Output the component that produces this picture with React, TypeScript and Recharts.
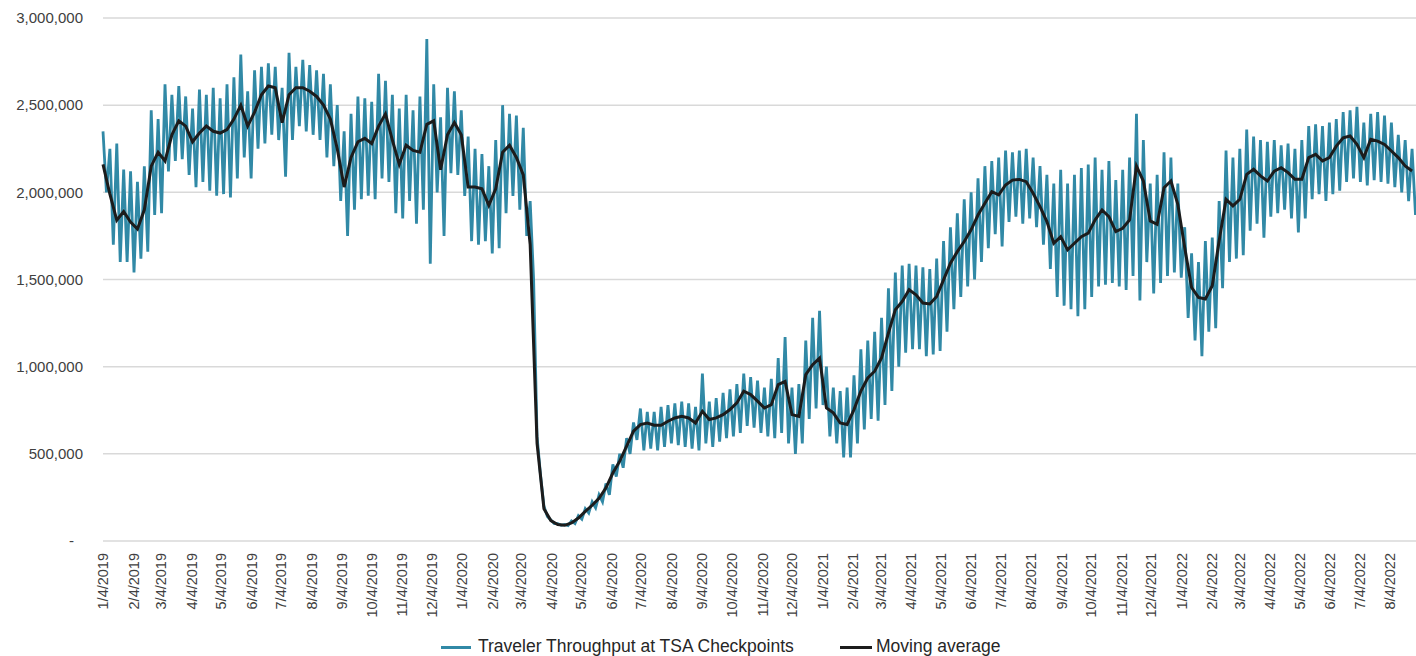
import { LineChart, Line, XAxis, YAxis, CartesianGrid, Legend } from "recharts";

// weekly readings, thousands of travelers; week 0 starts 1/4/2019
const weeklyHighK = [
  2350, 2250, 2280, 2130, 2120, 2060, 2150, 2470, 2420, 2620,
  2560, 2610, 2550, 2480, 2590, 2560, 2600, 2540, 2620, 2660,
  2790, 2580, 2700, 2720, 2740, 2720, 2600, 2800, 2720, 2760,
  2730, 2700, 2680, 2620, 2500, 2350, 2450, 2550, 2540, 2520,
  2680, 2640, 2560, 2480, 2560, 2470, 2550, 2880, 2620, 2430,
  2600, 2580, 2470, 2320, 2250, 2220, 2150, 2300, 2500, 2450,
  2440, 2370, 1950, 600, 200, 120, 100, 95, 115, 145,
  185, 225, 265, 330, 440, 500, 590, 680, 760, 740,
  740, 770, 780, 790, 800, 790, 770, 960, 800, 820,
  850, 870, 900, 960, 940, 920, 880, 930, 1050, 1170,
  880, 900, 1150, 1280, 1320, 1000, 880, 860, 880, 950,
  1100, 1150, 1200, 1280, 1450, 1540, 1580, 1590, 1580, 1570,
  1560, 1620, 1720, 1800, 1880, 1960, 2000, 2080, 2150, 2180,
  2200, 2240, 2230, 2240, 2250, 2200, 2150, 2100, 2050, 2130,
  2050, 2100, 2140, 2160, 2200, 2130, 2180, 2070, 2130, 2200,
  2450, 2300, 2050, 2100, 2230, 2200, 2050, 1800, 1650, 1600,
  1720, 1740, 1950, 2240, 2200, 2250, 2360, 2320, 2300, 2290,
  2300, 2270, 2280, 2250, 2300, 2380, 2390, 2380, 2400, 2420,
  2460, 2470, 2490, 2400, 2450, 2460, 2440, 2400, 2330, 2300,
  2250,
];

const weeklyLowK = [
  2000, 1700, 1600, 1600, 1540, 1620, 1660, 1870, 1880, 2120,
  2180, 2190, 2100, 2030, 2060, 2010, 1980, 1990, 1970, 2080,
  2200, 2080, 2250, 2280, 2330, 2300, 2090, 2300, 2380, 2350,
  2330, 2300, 2200, 2150, 1950, 1750, 1900, 1960, 1980, 1960,
  2080, 2060, 1880, 1850, 1950, 1820, 1900, 1590, 2000, 1750,
  2110, 2100, 1980, 1720, 1700, 1720, 1650, 1680, 1880, 1980,
  1900, 1750, 1500, 380, 140, 100, 90, 88, 100, 125,
  160, 190, 225, 265, 370, 420, 500, 580, 520, 530,
  520, 540, 560, 550, 540, 530, 520, 560, 540, 570,
  590, 600, 620, 660, 650, 620, 600, 590, 620, 560,
  500, 560, 700, 760, 780, 600, 560, 480, 480, 560,
  640, 700, 690, 780, 860, 1000, 1080, 1100, 1100, 1060,
  1070, 1090, 1200, 1330, 1400, 1460, 1500, 1600, 1680, 1760,
  1690, 1830, 1860, 1820, 1850, 1800, 1700, 1560, 1400, 1350,
  1330, 1290, 1330, 1400, 1460, 1470, 1480, 1460, 1440, 1520,
  1380, 1600, 1420, 1480, 1520, 1540, 1510, 1280, 1150, 1060,
  1200, 1220, 1450, 1600, 1620, 1640, 1780, 1820, 1740, 1860,
  1880, 1900, 1850, 1770, 1850, 1960, 1990, 1950, 1990, 2010,
  2060, 2080, 2060, 2040, 2070, 2060, 2050, 2030, 2000, 1950,
  1870,
];

const movingAvgK = [
  2160, 1990, 1840, 1890, 1830, 1790, 1900, 2150, 2230, 2180,
  2330, 2410, 2380, 2290, 2340, 2380, 2350, 2340, 2360, 2420,
  2500, 2380, 2460, 2560, 2610, 2600, 2400, 2560, 2600, 2600,
  2580, 2550, 2500, 2420, 2250, 2030, 2200, 2290, 2310, 2280,
  2380, 2450, 2300, 2160, 2270, 2240, 2230, 2390, 2410, 2130,
  2330, 2400, 2330, 2030, 2030, 2020, 1925, 2020, 2230, 2270,
  2200, 2100, 1700, 560, 185, 117, 95, 90, 104, 132,
  170, 205, 245, 305, 390, 458, 544, 630, 668, 677,
  664, 664, 687, 706, 715, 706, 677, 744, 697, 706,
  725, 754, 792, 859, 840, 802, 763, 782, 897, 916,
  725, 715, 954, 1011, 1049, 763, 735, 677, 668, 754,
  860, 935, 974, 1050, 1193, 1327, 1374, 1441, 1412, 1365,
  1360, 1403, 1498, 1594, 1660, 1718, 1785, 1870, 1937, 2004,
  1985, 2042, 2070, 2074, 2061, 1995, 1918, 1832, 1708, 1746,
  1670, 1708, 1746, 1766, 1842, 1899, 1861, 1775, 1794, 1842,
  2150, 2065, 1836, 1817, 2027, 2065, 1931, 1683, 1454, 1397,
  1388, 1464, 1722, 1960, 1922, 1960, 2103, 2132, 2094, 2065,
  2122, 2141, 2113, 2075, 2075, 2199, 2218, 2180, 2199, 2265,
  2313, 2323, 2275, 2199, 2304, 2294, 2275, 2237, 2199, 2151,
  2122,
];

const monthLabels = [
  "1/4/2019", "2/4/2019", "3/4/2019", "4/4/2019", "5/4/2019", "6/4/2019",
  "7/4/2019", "8/4/2019", "9/4/2019", "10/4/2019", "11/4/2019", "12/4/2019",
  "1/4/2020", "2/4/2020", "3/4/2020", "4/4/2020", "5/4/2020", "6/4/2020",
  "7/4/2020", "8/4/2020", "9/4/2020", "10/4/2020", "11/4/2020", "12/4/2020",
  "1/4/2021", "2/4/2021", "3/4/2021", "4/4/2021", "5/4/2021", "6/4/2021",
  "7/4/2021", "8/4/2021", "9/4/2021", "10/4/2021", "11/4/2021", "12/4/2021",
  "1/4/2022", "2/4/2022", "3/4/2022", "4/4/2022", "5/4/2022", "6/4/2022",
  "7/4/2022", "8/4/2022",
];

const yTicks = [0, 500000, 1000000, 1500000, 2000000, 2500000, 3000000];

const TEAL = "#3189a6";
const DARK = "#1c1c1c";
const FONT = "'Liberation Sans', Arial, sans-serif";

const dayOf = (label: string) => {
  const [m, d, y] = label.split("/").map(Number);
  return (Date.UTC(y, m - 1, d) - Date.UTC(2019, 0, 4)) / 86400000;
};
const xTicks = monthLabels.map(dayOf);
const labelByDay: Record<number, string> = {};
monthLabels.forEach((l, i) => (labelByDay[xTicks[i]] = l));

const data: { d: number; v: number; ma: number | null }[] = [];
weeklyHighK.forEach((h, i) => {
  data.push({ d: i * 7, v: h * 1000, ma: movingAvgK[i] * 1000 });
  data.push({ d: i * 7 + 3.5, v: weeklyLowK[i] * 1000, ma: null });
});

const XTick = ({ x, y, payload }: any) => (
  <text
    x={x}
    y={y + 4}
    dy="0.35em"
    textAnchor="end"
    transform={`rotate(-90, ${x}, ${y + 4})`}
    fill="#404040"
    fontSize={14.5}
    fontFamily={FONT}
  >
    {labelByDay[payload.value]}
  </text>
);

const YTick = ({ x, y, payload }: any) => (
  <text
    x={payload.value === 0 ? x - 21 : x - 12}
    y={y}
    dy="0.35em"
    textAnchor="end"
    fill="#404040"
    fontSize={15}
    fontFamily={FONT}
  >
    {payload.value === 0 ? "-" : payload.value.toLocaleString("en-US")}
  </text>
);

const LegendContent = () => (
  <div style={{ position: "relative", width: 1416, height: 26, fontFamily: FONT, fontSize: 17.5, color: "#262626" }}>
    <div style={{ position: "absolute", left: 441, top: 12, width: 30, height: 2.5, background: TEAL }} />
    <span style={{ position: "absolute", left: 478, top: 2, whiteSpace: "nowrap" }}>Traveler Throughput at TSA Checkpoints</span>
    <div style={{ position: "absolute", left: 840, top: 12, width: 32, height: 3, background: DARK }} />
    <span style={{ position: "absolute", left: 876, top: 2, whiteSpace: "nowrap" }}>Moving average</span>
  </div>
);

export default function App() {
  return (
    <div style={{ position: "absolute", left: 0, top: 0, width: 1416, height: 656, overflow: "hidden", background: "#fff" }}>
      <LineChart width={1416} height={656} data={data} margin={{ top: 18, right: 0, bottom: 45, left: 0 }}>
        <CartesianGrid horizontal vertical={false} stroke="#d9d9d9" strokeWidth={1.5} />
        <XAxis
          dataKey="d"
          type="number"
          domain={[0, 1334]}
          ticks={xTicks}
          interval={0}
          height={70}
          axisLine={false}
          tickLine={false}
          tick={<XTick />}
        />
        <YAxis
          type="number"
          domain={[0, 3000000]}
          ticks={yTicks}
          interval={0}
          width={103}
          axisLine={false}
          tickLine={false}
          tick={<YTick />}
        />
        <Legend verticalAlign="middle" align="center" layout="horizontal" wrapperStyle={{ top: 634, left: 0, width: 1416 }} content={<LegendContent />} />
        <Line type="linear" dataKey="v" stroke={TEAL} strokeWidth={2.8} dot={false} isAnimationActive={false} />
        <Line type="linear" dataKey="ma" stroke={DARK} strokeWidth={3} dot={false} connectNulls isAnimationActive={false} />
      </LineChart>
    </div>
  );
}
